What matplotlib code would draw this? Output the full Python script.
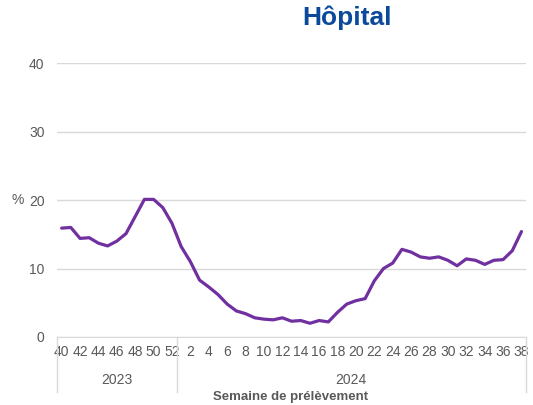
import numpy as np
import matplotlib
matplotlib.use("Agg")
import matplotlib.pyplot as plt

# semaines 40-52 de 2023 puis 1-38 de 2024
weeks_2023 = list(range(40, 53))
weeks_2024 = list(range(1, 39))
years = ["2023", "2024"]

pct = [15.9, 16.0, 14.4, 14.5, 13.7, 13.3, 14.0, 15.1, 17.6, 20.1, 20.1, 18.9, 16.6,
       13.2, 11.0, 8.3, 7.3, 6.2, 4.8, 3.8, 3.4, 2.8, 2.6, 2.5, 2.8, 2.3, 2.4, 2.0,
       2.4, 2.2, 3.6, 4.8, 5.3, 5.6, 8.2, 10.0, 10.8, 12.8, 12.4, 11.7, 11.5, 11.7,
       11.2, 10.4, 11.4, 11.2, 10.6, 11.2, 11.3, 12.6, 15.4]

weeks = weeks_2023 + weeks_2024
x = np.arange(len(weeks))

plt.rcParams['font.family'] = ['Liberation Sans', 'DejaVu Sans']
grey = '#595959'

fig = plt.figure(figsize=(5.33, 4.05), dpi=100)
ax = fig.add_axes([0.107, 0.168, 0.880, 0.676])

ax.plot(x, pct, color='#7030A0', lw=2.3, solid_capstyle='round', zorder=3)

ax.set_ylim(0, 40)
ax.set_yticks([0, 10, 20, 30, 40])
ax.set_xlim(-0.5, len(weeks) - 0.5)
ticks = [i for i in x if i % 2 == 0]
ax.set_xticks(ticks)
ax.set_xticklabels([str(weeks[i]) for i in ticks])
ax.tick_params(axis='both', length=0, labelsize=10, colors=grey)
ax.tick_params(axis='x', pad=6)
ax.tick_params(axis='y', pad=9)
ax.grid(axis='y', color='#d9d9d9', lw=1)
ax.set_axisbelow(True)
for s in ['top', 'left', 'right']:
    ax.spines[s].set_visible(False)
ax.spines['bottom'].set_color('#d9d9d9')

# separateurs d'annees
trans = ax.get_xaxis_transform()
n23 = len(weeks_2023)
for xb in [-0.5, n23 - 0.5, len(weeks) - 0.5]:
    ax.plot([xb, xb], [0, -0.2], color='#d9d9d9', lw=1, transform=trans, clip_on=False)
ax.text((n23 - 1) / 2, -0.157, years[0], transform=trans, ha='center', va='center',
        fontsize=10, color=grey)
ax.text((n23 + len(weeks) - 1) / 2, -0.157, years[1], transform=trans, ha='center',
        va='center', fontsize=10, color=grey)

fig.text(291 / 533, 1 - 397 / 405, 'Semaine de prélèvement', ha='center', va='center',
         fontsize=9.5, fontweight='bold', color=grey)
fig.text(18 / 533, 1 - 200 / 405, '%', ha='center', va='center', fontsize=10, color=grey)
fig.text(347 / 533, 1 - 18 / 405, 'Hôpital', ha='center', va='center', fontsize=19,
         fontweight='bold', color='#0B4A9B')

fig.savefig('out.png', dpi=100)
